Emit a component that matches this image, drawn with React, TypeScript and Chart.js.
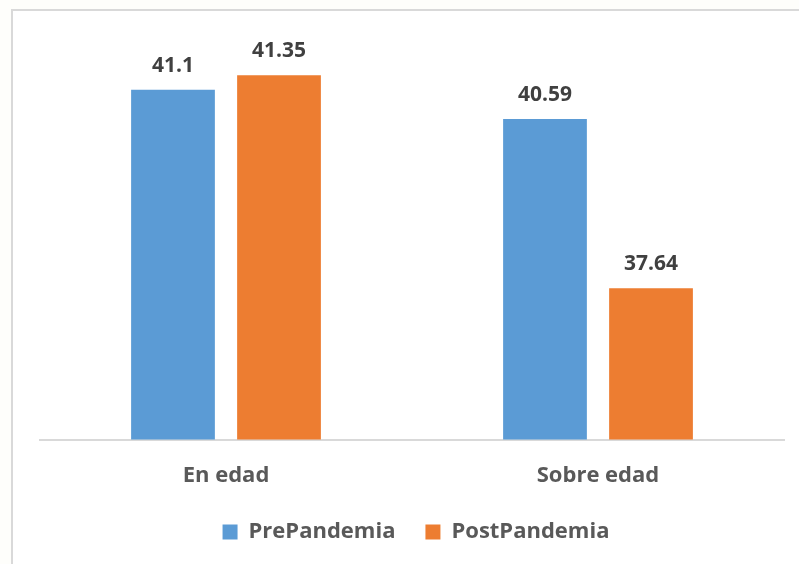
import React, { useEffect, useRef } from "react";
import { Chart, registerables } from "chart.js";

Chart.register(...registerables);

const categories = ["En edad", "Sobre edad"];
const seriesNames = ["PrePandemia", "PostPandemia"];
const prePandemia = [41.1, 40.59];
const postPandemia = [41.35, 37.64];
const seriesColors = ["#5B9BD5", "#ED7D31"];
const yMin = 35;
const yMax = 42;

const FONT = "'Open Sans', 'Noto Sans', sans-serif";

const valueLabels = {
  id: "valueLabels",
  afterDatasetsDraw(chart: any) {
    const ctx = chart.ctx;
    ctx.save();
    ctx.font = `bold 21px ${FONT}`;
    ctx.fillStyle = "#404040";
    ctx.textAlign = "center";
    ctx.textBaseline = "alphabetic";
    chart.data.datasets.forEach((ds: any, i: number) => {
      const meta = chart.getDatasetMeta(i);
      meta.data.forEach((bar: any, j: number) => {
        ctx.fillText(String(ds.data[j]), bar.x, bar.y - 18);
      });
    });
    ctx.restore();
  },
};

const legendShift = {
  id: "legendShift",
  afterLayout(chart: any) {
    const lg = chart.legend;
    if (lg) {
      lg.left += 4;
      lg.right += 4;
      lg.top -= 11;
      lg.bottom -= 11;
    }
  },
};

export default function App() {
  const ref = useRef<HTMLCanvasElement | null>(null);

  useEffect(() => {
    if (!ref.current) return;
    const chart = new Chart(ref.current, {
      type: "bar",
      data: {
        labels: categories,
        datasets: [
          {
            label: seriesNames[0],
            data: prePandemia,
            backgroundColor: seriesColors[0],
            borderWidth: 0,
            categoryPercentage: 0.57,
            barPercentage: 0.79,
          },
          {
            label: seriesNames[1],
            data: postPandemia,
            backgroundColor: seriesColors[1],
            borderWidth: 0,
            categoryPercentage: 0.57,
            barPercentage: 0.79,
          },
        ],
      },
      options: {
        animation: false,
        responsive: false,
        maintainAspectRatio: false,
        layout: { padding: { top: 38, left: 40, right: 15, bottom: 0 } },
        plugins: {
          tooltip: { enabled: false },
          legend: {
            position: "bottom",
            labels: {
              boxWidth: 15,
              boxHeight: 15,
              padding: 30,
              color: "#595959",
              font: { family: FONT, size: 22, weight: "bold" },
            },
          },
        },
        scales: {
          x: {
            grid: { display: false, drawTicks: false },
            border: { display: true, color: "#D9D9D9", width: 2 },
            ticks: {
              padding: 23,
              color: "#595959",
              font: { family: FONT, size: 22, weight: "bold" },
            },
            afterFit(scale: any) {
              scale.height -= 10;
            },
          },
          y: {
            display: false,
            min: yMin,
            max: yMax,
          },
        },
      },
      plugins: [valueLabels, legendShift],
    });
    return () => chart.destroy();
  }, []);

  return (
    <div
      style={{
        position: "absolute",
        left: 0,
        top: 0,
        width: 799,
        height: 564,
        background: "#FEFEFB",
        overflow: "hidden",
      }}
    >
      <div
        style={{
          position: "absolute",
          left: 11,
          top: 9,
          width: 800,
          height: 600,
          background: "#FFFFFF",
          borderLeft: "2px solid #D9D9D9",
          borderTop: "2px solid #D9D9D9",
        }}
      />
      <canvas
        ref={ref}
        width={799}
        height={564}
        style={{ position: "absolute", left: 0, top: 0, width: 799, height: 564 }}
      />
    </div>
  );
}
